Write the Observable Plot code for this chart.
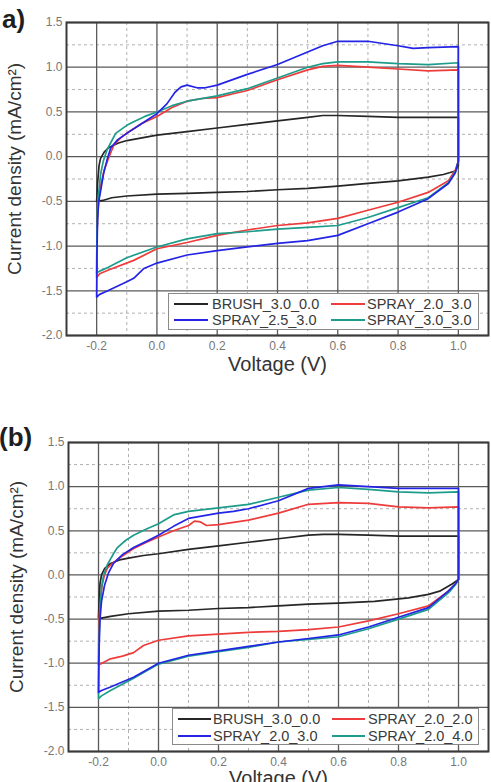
<!DOCTYPE html>
<html>
<head>
<meta charset="utf-8">
<script src="https://cdn.jsdelivr.net/npm/d3@7"></script>
<script src="https://cdn.jsdelivr.net/npm/@observablehq/plot@0.6"></script>
<style>
  body { margin: 0; background: #fff; font-family: "Liberation Sans", Arial, sans-serif; }
  #page { position: relative; width: 491px; height: 782px; overflow: hidden; background: #fff; }
  .panel { position: absolute; left: 0; }
  .panel svg { display: block; }
  .tag { position: absolute; font-weight: bold; font-size: 26px; color: #1e1e1e; line-height: 1; }
  .legend { position: absolute; background: #fff; border: 1px solid #8a8a8a; box-sizing: border-box; }
  .legend .sw { position: absolute; height: 2px; }
  .legend .lab { position: absolute; font-size: 14.5px; color: #3a3a3a; line-height: 1; white-space: nowrap; transform: translateY(-50%); }
</style>
</head>
<body>
<div id="page"></div>
<script>
// ---- axis ticks ----
const xTicks = [-0.2, 0.0, 0.2, 0.4, 0.6, 0.8, 1.0];
const xMinor = [-0.1, 0.1, 0.3, 0.5, 0.7, 0.9];
const yTicks = [-2.0, -1.5, -1.0, -0.5, 0.0, 0.5, 1.0, 1.5];
const yMinor = [-1.75, -1.25, -0.75, -0.25, 0.25, 0.75, 1.25];

const xTitle = "Voltage (V)";
const yTitle = "Current density (mA/cm²)";

// ---- series names and colours ----
const namesA = ["BRUSH_3.0_0.0", "SPRAY_2.0_3.0", "SPRAY_2.5_3.0", "SPRAY_3.0_3.0"];
const namesB = ["BRUSH_3.0_0.0", "SPRAY_2.0_2.0", "SPRAY_2.0_3.0", "SPRAY_2.0_4.0"];
const colors = ["#262626", "#ee3b3b", "#2424e6", "#1d9c8c"];

// ---- panel (a): cyclic voltammograms, [V, mA/cm²] ----
const aBrush = [[-0.2,-0.50],[-0.197,-0.30],[-0.192,-0.10],[-0.187,-0.02],[-0.175,0.05],[-0.16,0.10],[-0.13,0.15],[-0.1,0.18],[-0.05,0.21],[0.0,0.24],[0.1,0.28],[0.2,0.32],[0.3,0.36],[0.4,0.40],[0.5,0.44],[0.55,0.46],[0.6,0.46],[0.7,0.45],[0.8,0.44],[0.9,0.44],[1.0,0.44],
  [1.0,-0.10],[0.99,-0.16],[0.95,-0.20],[0.9,-0.23],[0.8,-0.27],[0.7,-0.30],[0.6,-0.33],[0.5,-0.355],[0.4,-0.37],[0.3,-0.39],[0.2,-0.40],[0.1,-0.41],[0.0,-0.42],[-0.1,-0.44],[-0.15,-0.46],[-0.18,-0.49],[-0.2,-0.50]];
const aSpray20 = [[-0.2,-1.35],[-0.199,-0.9],[-0.196,-0.6],[-0.192,-0.45],[-0.185,-0.30],[-0.175,-0.15],[-0.163,-0.04],[-0.143,0.13],[-0.12,0.21],[-0.097,0.27],[-0.05,0.37],[0.0,0.45],[0.05,0.55],[0.1,0.62],[0.15,0.65],[0.2,0.66],[0.25,0.70],[0.3,0.74],[0.4,0.86],[0.5,0.97],[0.55,1.01],[0.6,1.02],[0.7,1.00],[0.8,0.98],[0.9,0.96],[1.0,0.97],
  [1.0,-0.05],[0.99,-0.15],[0.967,-0.27],[0.9,-0.40],[0.8,-0.51],[0.7,-0.60],[0.6,-0.69],[0.5,-0.74],[0.4,-0.77],[0.3,-0.82],[0.2,-0.88],[0.1,-0.96],[0.0,-1.03],[-0.077,-1.16],[-0.163,-1.27],[-0.19,-1.31],[-0.2,-1.35]];
const aSpray25 = [[-0.2,-1.57],[-0.199,-1.1],[-0.197,-0.7],[-0.193,-0.5],[-0.185,-0.35],[-0.177,-0.19],[-0.165,-0.03],[-0.153,0.10],[-0.13,0.19],[-0.1,0.26],[-0.05,0.37],[0.0,0.48],[0.033,0.59],[0.06,0.72],[0.08,0.78],[0.1,0.80],[0.133,0.77],[0.16,0.77],[0.2,0.80],[0.3,0.92],[0.4,1.03],[0.5,1.17],[0.55,1.24],[0.6,1.29],[0.7,1.29],[0.8,1.24],[0.85,1.21],[0.9,1.22],[1.0,1.23],
  [1.0,-0.05],[0.99,-0.18],[0.967,-0.30],[0.9,-0.47],[0.8,-0.62],[0.7,-0.75],[0.6,-0.88],[0.5,-0.94],[0.4,-0.97],[0.3,-1.01],[0.2,-1.05],[0.1,-1.10],[0.0,-1.19],[-0.043,-1.25],[-0.077,-1.36],[-0.1,-1.40],[-0.163,-1.50],[-0.19,-1.54],[-0.2,-1.57]];
const aSpray30 = [[-0.2,-1.30],[-0.199,-0.9],[-0.197,-0.6],[-0.193,-0.4],[-0.187,-0.2],[-0.178,-0.05],[-0.165,0.08],[-0.137,0.26],[-0.1,0.35],[-0.077,0.39],[-0.04,0.45],[0.0,0.50],[0.05,0.57],[0.1,0.62],[0.2,0.68],[0.3,0.76],[0.4,0.88],[0.5,1.00],[0.55,1.04],[0.6,1.06],[0.7,1.06],[0.8,1.04],[0.9,1.03],[1.0,1.05],
  [1.0,-0.05],[0.99,-0.17],[0.967,-0.29],[0.9,-0.46],[0.8,-0.57],[0.7,-0.68],[0.6,-0.77],[0.5,-0.79],[0.4,-0.81],[0.3,-0.84],[0.2,-0.86],[0.1,-0.92],[0.0,-1.01],[-0.1,-1.13],[-0.163,-1.24],[-0.19,-1.28],[-0.2,-1.30]];

// ---- panel (b) ----
const bBrush = [[-0.2,-0.48],[-0.198,-0.3],[-0.195,-0.1],[-0.19,0.0],[-0.18,0.07],[-0.16,0.13],[-0.13,0.17],[-0.1,0.19],[-0.05,0.22],[0.0,0.24],[0.1,0.29],[0.2,0.33],[0.3,0.37],[0.4,0.41],[0.5,0.45],[0.55,0.46],[0.6,0.46],[0.7,0.45],[0.8,0.44],[0.9,0.44],[1.0,0.44],
  [1.0,-0.05],[0.98,-0.10],[0.94,-0.18],[0.9,-0.22],[0.833,-0.26],[0.72,-0.30],[0.6,-0.32],[0.5,-0.33],[0.4,-0.35],[0.3,-0.37],[0.2,-0.38],[0.1,-0.40],[0.0,-0.41],[-0.1,-0.44],[-0.16,-0.47],[-0.19,-0.49],[-0.2,-0.48]];
const bSpray20 = [[-0.2,-1.02],[-0.199,-0.7],[-0.197,-0.45],[-0.193,-0.25],[-0.187,-0.1],[-0.18,0.0],[-0.17,0.08],[-0.15,0.14],[-0.127,0.20],[-0.083,0.30],[-0.04,0.37],[0.0,0.43],[0.05,0.50],[0.1,0.56],[0.12,0.61],[0.14,0.60],[0.16,0.56],[0.2,0.57],[0.3,0.62],[0.4,0.70],[0.5,0.80],[0.6,0.82],[0.7,0.81],[0.8,0.77],[0.9,0.76],[1.0,0.77],
  [1.0,-0.05],[0.99,-0.10],[0.967,-0.18],[0.9,-0.35],[0.8,-0.44],[0.7,-0.52],[0.6,-0.59],[0.5,-0.62],[0.4,-0.64],[0.3,-0.65],[0.2,-0.67],[0.1,-0.69],[0.0,-0.74],[-0.05,-0.80],[-0.083,-0.88],[-0.12,-0.92],[-0.16,-0.95],[-0.2,-1.02]];
const bSpray30 = [[-0.2,-1.33],[-0.199,-1.0],[-0.197,-0.7],[-0.195,-0.5],[-0.19,-0.3],[-0.18,-0.12],[-0.167,0.02],[-0.15,0.13],[-0.12,0.23],[-0.083,0.31],[-0.04,0.38],[0.0,0.45],[0.05,0.55],[0.1,0.64],[0.2,0.70],[0.25,0.72],[0.3,0.75],[0.4,0.84],[0.5,0.98],[0.6,1.02],[0.7,1.00],[0.8,0.98],[0.9,0.98],[1.0,0.98],
  [1.0,-0.05],[0.99,-0.10],[0.967,-0.18],[0.9,-0.37],[0.8,-0.48],[0.7,-0.59],[0.6,-0.68],[0.5,-0.72],[0.4,-0.76],[0.3,-0.81],[0.2,-0.86],[0.1,-0.91],[0.0,-1.00],[-0.083,-1.16],[-0.16,-1.27],[-0.19,-1.31],[-0.2,-1.33]];
const bSpray40 = [[-0.2,-1.40],[-0.199,-1.0],[-0.197,-0.6],[-0.194,-0.35],[-0.19,-0.15],[-0.183,0.0],[-0.17,0.12],[-0.15,0.24],[-0.137,0.31],[-0.11,0.39],[-0.083,0.45],[-0.04,0.52],[0.0,0.58],[0.05,0.68],[0.1,0.72],[0.2,0.76],[0.3,0.80],[0.4,0.88],[0.5,0.96],[0.6,0.99],[0.7,0.97],[0.8,0.94],[0.9,0.93],[1.0,0.94],
  [1.0,-0.05],[0.99,-0.11],[0.967,-0.20],[0.9,-0.39],[0.8,-0.50],[0.7,-0.61],[0.6,-0.70],[0.5,-0.73],[0.4,-0.76],[0.3,-0.82],[0.2,-0.87],[0.1,-0.92],[0.0,-1.01],[-0.083,-1.17],[-0.16,-1.31],[-0.19,-1.37],[-0.2,-1.40]];

const curvesA = [aBrush, aSpray20, aSpray25, aSpray30];
const curvesB = [bBrush, bSpray20, bSpray30, bSpray40];
// drawing order: black, red, teal, blue on top
const drawOrder = [0, 1, 3, 2];

const fmt = d => d.toFixed(1);
const FONT = '"Liberation Sans", Arial, sans-serif';

function cvPanel(curves, m) {
  return Plot.plot({
    width: 491,
    height: m.height,
    marginTop: m.top,
    marginBottom: m.bottom,
    marginLeft: m.left,
    marginRight: m.right,
    x: {domain: [-0.3, 1.1]},
    y: {domain: [-2.0, 1.5]},
    style: {fontFamily: FONT, background: "#fff", overflow: "visible"},
    marks: [
      Plot.ruleX(xMinor, {stroke: "#b0b0b0", strokeWidth: 1, strokeDasharray: "3,3"}),
      Plot.ruleY(yMinor, {stroke: "#b0b0b0", strokeWidth: 1, strokeDasharray: "3,3"}),
      Plot.ruleX(xTicks, {stroke: "#5a5a5a", strokeWidth: 1.3}),
      Plot.ruleY(yTicks, {stroke: "#5a5a5a", strokeWidth: 1.3}),
      ...drawOrder.map(i => Plot.line(curves[i], {
        x: d => d[0], y: d => d[1],
        stroke: colors[i], strokeWidth: 1.7, strokeLinejoin: "round"
      })),
      Plot.frame({stroke: "#3a3a3a", strokeWidth: 2}),
      Plot.axisX(xTicks, {tickSize: 0, tickPadding: 6, tickFormat: fmt, fill: "#777", fontSize: 12, label: null}),
      Plot.axisY(yTicks, {tickSize: 0, tickPadding: 4, tickFormat: fmt, fill: "#777", fontSize: 12, label: null}),
      Plot.text([xTitle], {text: d => d, frameAnchor: "bottom", textAnchor: "middle", dy: m.xTitleDy, fontSize: 20, fill: "#333"}),
      Plot.text([yTitle], {text: d => d, frameAnchor: "left", textAnchor: "middle", dx: -52, dy: -10, rotate: -90, fontSize: 19, fill: "#333"})
    ]
  });
}

function legend(names, box) {
  const el = document.createElement("div");
  el.className = "legend";
  Object.assign(el.style, {left: box.left + "px", top: box.top + "px", width: box.width + "px", height: box.height + "px"});
  names.forEach((name, i) => {
    const col = i % 2, row = Math.floor(i / 2);
    const cy = box.rows[row];
    const sw = document.createElement("div");
    sw.className = "sw";
    Object.assign(sw.style, {left: box.swLeft[col] + "px", width: box.swWidth + "px", top: (cy - 1) + "px", background: colors[i]});
    const lab = document.createElement("div");
    lab.className = "lab";
    lab.textContent = name;
    Object.assign(lab.style, {left: box.textLeft[col] + "px", top: cy + "px"});
    el.append(sw, lab);
  });
  return el;
}

function tag(text, left, top) {
  const el = document.createElement("div");
  el.className = "tag";
  el.textContent = text;
  Object.assign(el.style, {left: left + "px", top: top + "px"});
  return el;
}

const page = document.getElementById("page");

const wrapA = document.createElement("div");
wrapA.className = "panel";
wrapA.style.top = "0px";
wrapA.append(cvPanel(curvesA, {height: 390, top: 22, bottom: 55, left: 66, right: 3, xTitleDy: 35}));

const wrapB = document.createElement("div");
wrapB.className = "panel";
wrapB.style.top = "390px";
wrapB.append(cvPanel(curvesB, {height: 392, top: 52, bottom: 31, left: 68, right: 3, xTitleDy: 33}));

page.append(wrapA, wrapB);
page.append(legend(namesA, {left: 168, top: 293, width: 311, height: 37, rows: [10, 26], swLeft: [5, 162], swWidth: 34, textLeft: [43, 198]}));
page.append(legend(namesB, {left: 172, top: 708, width: 307, height: 37, rows: [10, 27], swLeft: [5, 159], swWidth: 33, textLeft: [40, 195]}));
page.append(tag("a)", 2, 6));
page.append(tag("(b)", -1, 424));
</script>
</body>
</html>
